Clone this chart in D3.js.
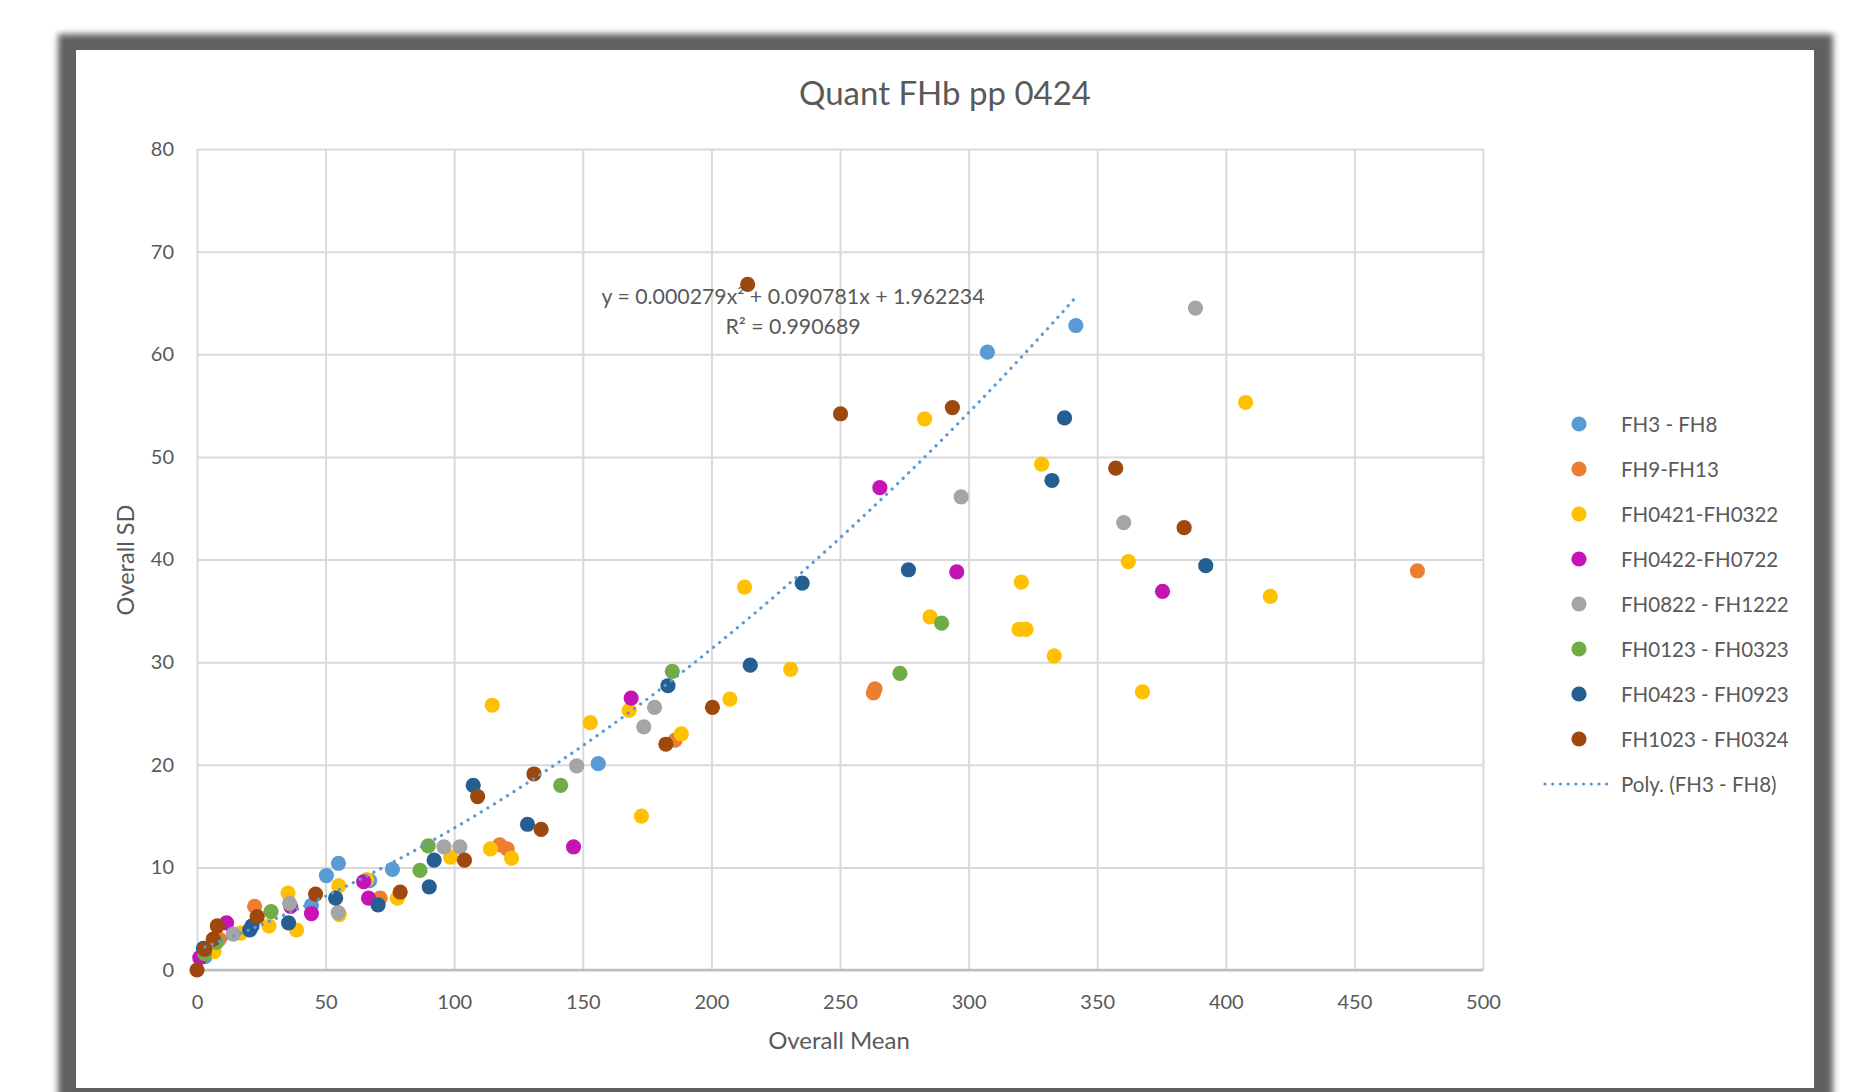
<!DOCTYPE html>
<html>
<head>
<meta charset="utf-8">
<script src="https://cdn.jsdelivr.net/npm/d3@7"></script>
<style>
  html, body { margin: 0; padding: 0; background: #fff; }
  svg { display: block; }
</style>
</head>
<body>
<div id="chart"></div>
<script>
// series: [overall mean, overall SD]
const fh3_fh8 = [[3.1,1.3],[44.5,6.3],[50.3,9.2],[55.0,10.4],[67.1,8.7],[76.0,9.8],[156.0,20.1],[307.3,60.2],[341.7,62.8]];
const fh9_fh13 = [[8.7,3.0],[22.4,6.2],[71.2,7.0],[117.7,12.2],[120.6,11.8],[185.9,22.4],[263.0,27.0],[263.6,27.4],[474.5,38.9]];
const fh0421_fh0322 = [[6.6,1.8],[17.0,3.6],[28.0,4.3],[35.4,7.5],[38.7,3.9],[55.1,8.2],[55.3,5.4],[66.0,8.8],[77.9,7.0],[98.6,11.0],[114.1,11.8],[122.3,10.9],[114.8,25.8],[152.9,24.1],[168.0,25.3],[172.8,15.0],[188.3,23.0],[207.2,26.4],[212.9,37.3],[230.8,29.3],[282.9,53.7],[285.0,34.4],[319.6,33.2],[322.3,33.2],[320.5,37.8],[328.4,49.3],[333.3,30.6],[362.1,39.8],[367.6,27.1],[407.7,55.3],[417.3,36.4]];
const fh0422_fh0722 = [[1.1,1.2],[11.5,4.6],[36.4,6.2],[44.5,5.5],[64.8,8.6],[66.7,7.0],[146.4,12.0],[168.8,26.5],[265.5,47.0],[295.4,38.8],[375.4,36.9]];
const fh0822_fh1222 = [[14.1,3.5],[36.0,6.5],[54.9,5.6],[96.0,12.0],[102.2,12.0],[147.6,19.9],[173.7,23.7],[177.9,25.6],[297.1,46.1],[360.3,43.6],[388.2,64.5]];
const fh0123_fh0323 = [[3.0,1.6],[7.6,2.7],[28.8,5.7],[86.7,9.7],[89.9,12.1],[141.4,18.0],[184.8,29.1],[273.3,28.9],[289.5,33.8]];
const fh0423_fh0923 = [[2.5,2.1],[20.5,3.9],[21.4,4.3],[35.6,4.6],[53.9,7.0],[70.4,6.35],[90.3,8.1],[92.2,10.7],[107.4,18.0],[128.5,14.2],[183.1,27.7],[215.1,29.7],[235.3,37.7],[276.6,39.0],[332.4,47.7],[337.3,53.8],[392.2,39.4]];
const fh1023_fh0324 = [[0,0],[3.0,2.0],[6.3,3.0],[7.9,4.3],[23.4,5.2],[46.1,7.4],[79.0,7.6],[104.0,10.7],[109.1,16.9],[131.0,19.1],[133.8,13.7],[182.3,22.0],[200.4,25.6],[214.1,66.8],[250.2,54.2],[293.7,54.8],[357.2,48.9],[383.8,43.1]];

const seriesNames = ["FH3 - FH8","FH9-FH13","FH0421-FH0322","FH0422-FH0722","FH0822 - FH1222","FH0123 - FH0323","FH0423 - FH0923","FH1023 - FH0324"];
const seriesData = [fh3_fh8, fh9_fh13, fh0421_fh0322, fh0422_fh0722, fh0822_fh1222, fh0123_fh0323, fh0423_fh0923, fh1023_fh0324];
const seriesColors = ["#5B9BD5","#ED7D31","#FFC000","#C414B6","#A5A5A5","#70AD47","#255E91","#9E480E"];

// polynomial trend (FH3 - FH8): a x^2 + b x + c
const trendCoef = [0.000279, 0.090781, 1.962234];
const trendLabel = "Poly. (FH3 - FH8)";
const equationText = "y = 0.000279x² + 0.090781x + 1.962234";
const r2Text = "R² = 0.990689";

const xTicks = [0,50,100,150,200,250,300,350,400,450,500];
const yTicks = [0,10,20,30,40,50,60,70,80];

const W = 1869, H = 1092;
const marginLeft = 197, marginRight = 1483, marginTop = 149, marginBottom = 970;
const textColor = "#595959";
const font = "Lato, 'Open Sans', sans-serif";

const svg = d3.select("#chart").append("svg")
  .attr("width", W).attr("height", H)
  .style("font-family", font);

// frame with soft shadow
const defs = svg.append("defs");
defs.append("filter").attr("id", "soft")
  .attr("x", "-5%").attr("y", "-5%").attr("width", "110%").attr("height", "110%")
  .append("feGaussianBlur").attr("stdDeviation", 3);
svg.append("rect").attr("x", 58).attr("y", 34).attr("width", 1775).attr("height", 1080)
  .attr("fill", "#606060").attr("filter", "url(#soft)");
svg.append("rect").attr("x", 76).attr("y", 50).attr("width", 1738).attr("height", 1038)
  .attr("fill", "#fff");

const x = d3.scaleLinear().domain([0, 500]).range([marginLeft, marginRight]);
const y = d3.scaleLinear().domain([0, 80]).range([marginBottom, marginTop]);

// gridlines
svg.append("g")
  .attr("transform", `translate(0,${marginBottom})`)
  .call(d3.axisBottom(x).tickValues(xTicks).tickSize(-(marginBottom - marginTop)).tickFormat(""))
  .call(g => g.select(".domain").remove())
  .call(g => g.selectAll("line").attr("stroke", "#d9d9d9").attr("stroke-width", 2));
svg.append("g")
  .attr("transform", `translate(${marginLeft},0)`)
  .call(d3.axisLeft(y).tickValues(yTicks).tickSize(-(marginRight - marginLeft)).tickFormat(""))
  .call(g => g.select(".domain").remove())
  .call(g => g.selectAll("line").attr("stroke", "#d9d9d9").attr("stroke-width", 2));
// bottom axis line
svg.append("line")
  .attr("x1", marginLeft).attr("x2", marginRight)
  .attr("y1", y(0)).attr("y2", y(0))
  .attr("stroke", "#bfbfbf").attr("stroke-width", 2.5);

// tick labels
svg.append("g")
  .attr("transform", `translate(0,${marginBottom + 22})`)
  .call(d3.axisBottom(x).tickValues(xTicks).tickSize(0))
  .call(g => g.select(".domain").remove())
  .call(g => g.selectAll("text").attr("fill", textColor).style("font-size", "20px").style("font-family", font));
svg.append("g")
  .attr("transform", `translate(${marginLeft - 20},0)`)
  .call(d3.axisLeft(y).tickValues(yTicks).tickSize(0))
  .call(g => g.select(".domain").remove())
  .call(g => g.selectAll("text").attr("fill", textColor).style("font-size", "20px").style("font-family", font));

// title and axis titles
svg.append("text").attr("x", 945).attr("y", 105).attr("text-anchor", "middle")
  .attr("fill", textColor).style("font-size", "33px").text("Quant FHb pp 0424");
svg.append("text").attr("x", 839).attr("y", 1049).attr("text-anchor", "middle")
  .attr("fill", textColor).style("font-size", "24px").text("Overall Mean");
svg.append("text").attr("transform", "translate(134,560) rotate(-90)").attr("text-anchor", "middle")
  .attr("fill", textColor).style("font-size", "23.5px").text("Overall SD");

// points
seriesData.forEach((data, i) => {
  svg.append("g")
    .selectAll("circle")
    .data(data)
    .join("circle")
    .attr("cx", d => x(d[0]))
    .attr("cy", d => y(d[1]))
    .attr("r", 7.6)
    .attr("fill", seriesColors[i]);
});

// trendline
const xs = fh3_fh8.map(d => d[0]);
const trendPts = d3.range(d3.min(xs), d3.max(xs) + 0.01, 1).concat([d3.max(xs)])
  .map(v => [v, trendCoef[0] * v * v + trendCoef[1] * v + trendCoef[2]]);
svg.append("path")
  .datum(trendPts)
  .attr("d", d3.line().x(d => x(d[0])).y(d => y(d[1])))
  .attr("fill", "none")
  .attr("stroke", seriesColors[0])
  .attr("stroke-width", 3.2)
  .attr("stroke-linecap", "round")
  .attr("stroke-dasharray", "0.1,7.6");

svg.append("text").attr("x", 793).attr("y", 304).attr("text-anchor", "middle")
  .attr("fill", textColor).style("font-size", "21.3px").text(equationText);
svg.append("text").attr("x", 793).attr("y", 334).attr("text-anchor", "middle")
  .attr("fill", textColor).style("font-size", "21.3px").text(r2Text);

// legend
const legend = svg.append("g");
seriesNames.forEach((name, i) => {
  const ly = 424 + i * 45;
  legend.append("circle").attr("cx", 1579).attr("cy", ly).attr("r", 7.6).attr("fill", seriesColors[i]);
  legend.append("text").attr("x", 1621).attr("y", ly + 7.5)
    .attr("fill", textColor).style("font-size", "20.5px").text(name);
});
const ty = 424 + 8 * 45;
legend.append("line").attr("x1", 1545).attr("x2", 1613).attr("y1", ty).attr("y2", ty)
  .attr("stroke", seriesColors[0]).attr("stroke-width", 3.2)
  .attr("stroke-linecap", "round").attr("stroke-dasharray", "0.1,7.6");
legend.append("text").attr("x", 1621).attr("y", ty + 7.5)
  .attr("fill", textColor).style("font-size", "20.5px").text(trendLabel);
</script>
</body>
</html>
